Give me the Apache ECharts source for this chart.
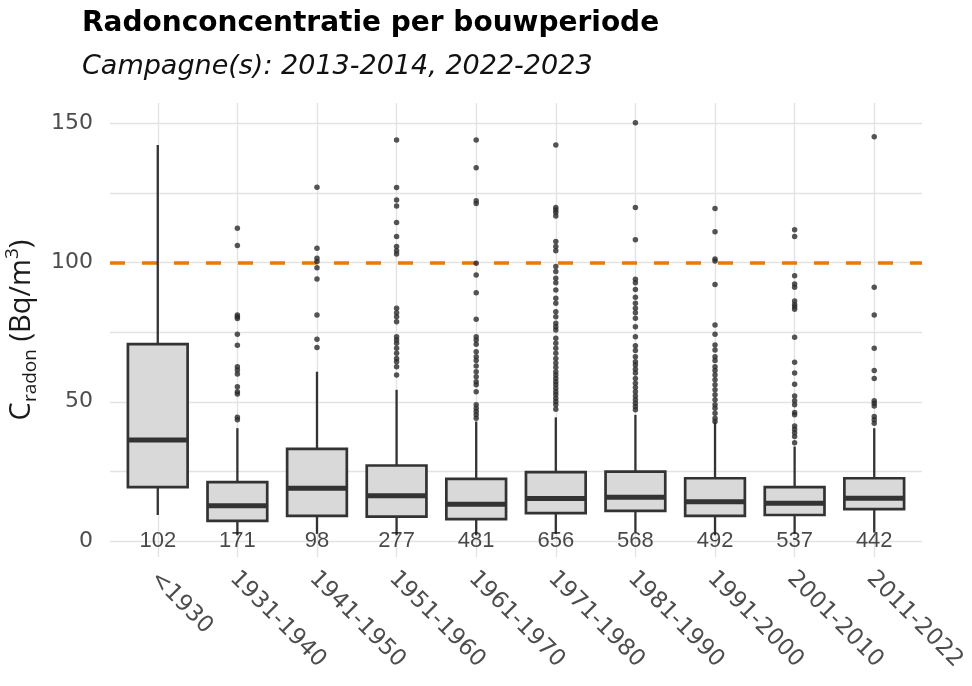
<!DOCTYPE html>
<html>
<head>
<meta charset="utf-8">
<script src="https://cdn.jsdelivr.net/npm/echarts@6/dist/echarts.min.js"></script>
<style>html,body{margin:0;padding:0;background:#fff}#c{width:972px;height:686px}</style>
</head>
<body>
<div id="c"></div>
<script>
const categories = ['<1930','1931-1940','1941-1950','1951-1960','1961-1970','1971-1980','1981-1990','1991-2000','2001-2010','2011-2022'];
const counts = [102,171,98,277,481,656,568,492,537,442];
const lowerWhisker = [9.3, 2, 2.5, 2, 2, 2.5, 3, 2, 2.5, 3];
const q1 = [19.3, 7.2, 9.0, 8.7, 7.8, 10.0, 10.8, 9.0, 9.3, 11.4];
const median = [36.3, 12.6, 18.9, 16.2, 13.2, 15.2, 15.7, 14.1, 13.5, 15.3];
const q3 = [70.7, 21.1, 33.1, 27.1, 22.3, 24.7, 24.9, 22.5, 19.3, 22.5];
const upperWhisker = [142.3, 40.5, 60.8, 54.3, 42.9, 44.4, 45.3, 42.9, 33.9, 40.5];
const outliers = [
  [],
  [112.4,106.2,81.2,80.6,79.9,74.3,70.3,62.6,61.4,60.0,55.4,53.6,52.8,44.4,43.5],
  [127.1,105.2,101.6,100.4,98.2,94.1,81.2,72.5,69.5],
  [144.1,127.0,122.5,120.4,114.4,109.4,105.8,104.3,103.1,83.6,82.0,80.6,78.8,73.4,72.2,71.0,69.2,67.4,65.6,64.4,62.6,59.6],
  [144.1,134.1,122.3,121.3,99.8,95.6,89.2,79.7,73.4,72.2,70.7,68.0,66.2,64.8,62.9,60.8,59.0,57.2,56.1,53.6,48.9,47.7,46.5,45.3,44.1],
  [142.3,119.8,118.9,118.0,116.8,107.6,105.8,104.3,98.6,96.8,94.4,92.8,90.2,87.2,85.4,82.4,80.6,78.2,77.0,75.8,72.8,71.0,69.2,67.4,65.6,63.9,62.4,60.8,59.6,58.4,57.2,56.1,54.9,53.6,52.5,51.3,50.1,48.9,47.3],
  [150.3,119.8,108.2,94.0,92.8,90.4,87.6,85.4,83.6,82.0,80.0,77.0,73.4,70.1,68.4,66.2,64.4,63.2,61.7,60.3,58.4,56.7,55.1,53.6,52.1,50.7,49.5,48.3,47.1],
  [119.5,111.1,101.3,100.6,92.2,77.6,74.3,70.4,68.6,66.2,64.8,62.6,61.2,59.6,57.9,56.1,54.3,52.5,50.7,48.9,47.7,45.9,44.1,42.9],
  [111.8,109.4,95.3,92.3,91.2,86.2,85.0,84.2,83.3,73.2,64.2,60.3,56.3,52.1,50.4,48.9,46.1,45.3,41.3,40.1,38.9,37.5,35.3],
  [145.3,91.2,81.2,69.2,61.2,58.4,50.4,49.5,48.5,44.7,43.5,42.3]
];
const referenceLevel = 100;
const yTicks = [0, 50, 100, 150];
const yGrid = [0, 25, 50, 75, 100, 125, 150];
const title = 'Radonconcentratie per bouwperiode';
const subtitle = 'Campagne(s): 2013-2014, 2022-2023';

const boxData = categories.map((c, i) => [i, lowerWhisker[i], q1[i], median[i], q3[i], upperWhisker[i]]);
const outlierData = [];
outliers.forEach((arr, i) => arr.forEach(v => outlierData.push([i, v])));
const countData = counts.map((n, i) => [i, 0, n]);
const catIdx = categories.map((c, i) => i);
const labelPos = catIdx.map(i => i - 0.05);

const chart = echarts.init(document.getElementById('c'), null, {renderer: 'canvas'});
chart.setOption({
  animation: false,
  backgroundColor: '#ffffff',
  title: {
    text: title,
    subtext: subtitle,
    left: 77,
    top: 5,
    itemGap: 15,
    textStyle: {fontFamily: 'DejaVu Sans', fontWeight: 'bold', fontSize: 28, color: '#000'},
    subtextStyle: {fontFamily: 'DejaVu Sans', fontStyle: 'italic', fontSize: 27, color: '#111'}
  },
  grid: {left: 110, right: 50, top: 103, bottom: 129, containLabel: false, outerBoundsMode: 'none'},
  xAxis: {
    type: 'value',
    min: -0.6,
    max: 9.6,
    axisLine: {show: false},
    axisTick: {show: false, customValues: catIdx},
    axisLabel: {
      customValues: labelPos,
      rotate: -45,
      margin: 18,
      fontFamily: 'DejaVu Sans',
      fontSize: 23,
      color: '#4d4d4d',
      formatter: v => categories[Math.round(v)]
    },
    splitLine: {show: true, lineStyle: {color: '#e3e3e3', width: 1.4}}
  },
  yAxis: {
    type: 'value',
    min: -5.8,
    max: 157.4,
    name: '{c|C}{s|radon}{c| (Bq/m}{p|3}{c|)}',
    nameLocation: 'middle',
    nameRotate: 90,
    nameGap: 66,
    nameTextStyle: {
      rich: {
        c: {fontFamily: 'Open Sans', fontSize: 29, color: '#1a1a1a', lineHeight: 37, verticalAlign: 'middle'},
        s: {fontFamily: 'Open Sans', fontSize: 19, color: '#1a1a1a', lineHeight: 37, verticalAlign: 'bottom'},
        p: {fontFamily: 'Open Sans', fontSize: 19, color: '#1a1a1a', lineHeight: 37, verticalAlign: 'top'}
      }
    },
    axisLine: {show: false},
    axisTick: {show: false, customValues: yGrid},
    axisLabel: {customValues: yTicks, margin: 17, fontFamily: 'DejaVu Sans', fontSize: 22, color: '#4d4d4d'},
    splitLine: {show: true, lineStyle: {color: '#e3e3e3', width: 1.4}}
  },
  series: [
    {
      type: 'custom',
      name: 'box',
      z: 3,
      data: boxData,
      renderItem: function (params, api) {
        const x = api.value(0);
        const lo = api.coord([x, api.value(1)]);
        const b1 = api.coord([x, api.value(2)]);
        const md = api.coord([x, api.value(3)]);
        const b3 = api.coord([x, api.value(4)]);
        const hi = api.coord([x, api.value(5)]);
        const w = api.size([0.75, 0])[0];
        const stroke = '#333333';
        return {
          type: 'group',
          children: [
            {type: 'line', shape: {x1: hi[0], y1: hi[1], x2: b3[0], y2: b3[1]}, style: {stroke: stroke, lineWidth: 2.3}},
            {type: 'line', shape: {x1: b1[0], y1: b1[1], x2: lo[0], y2: lo[1]}, style: {stroke: stroke, lineWidth: 2.3}},
            {type: 'rect', shape: {x: b3[0] - w / 2, y: b3[1], width: w, height: b1[1] - b3[1]}, style: {fill: '#d9d9d9', stroke: stroke, lineWidth: 2.7}},
            {type: 'line', shape: {x1: md[0] - w / 2, y1: md[1], x2: md[0] + w / 2, y2: md[1]}, style: {stroke: stroke, lineWidth: 5}}
          ]
        };
      },
      markLine: {
        silent: true,
        symbol: 'none',
        z: 1,
        label: {show: false},
        lineStyle: {color: '#ea7a00', width: 3.5, type: [15, 17]},
        data: [{yAxis: referenceLevel}]
      }
    },
    {
      type: 'scatter',
      name: 'outliers',
      z: 4,
      data: outlierData,
      symbolSize: 5.5,
      itemStyle: {color: '#2b2b2b'}
    },
    {
      type: 'scatter',
      name: 'counts',
      z: 5,
      data: countData,
      symbolSize: 1,
      itemStyle: {color: 'rgba(0,0,0,0)'},
      label: {
        show: true,
        position: 'inside',
        formatter: p => String(p.value[2]),
        fontFamily: 'Liberation Sans',
        fontSize: 22,
        color: '#1a1a1a'
      }
    }
  ]
});
</script>
</body>
</html>
